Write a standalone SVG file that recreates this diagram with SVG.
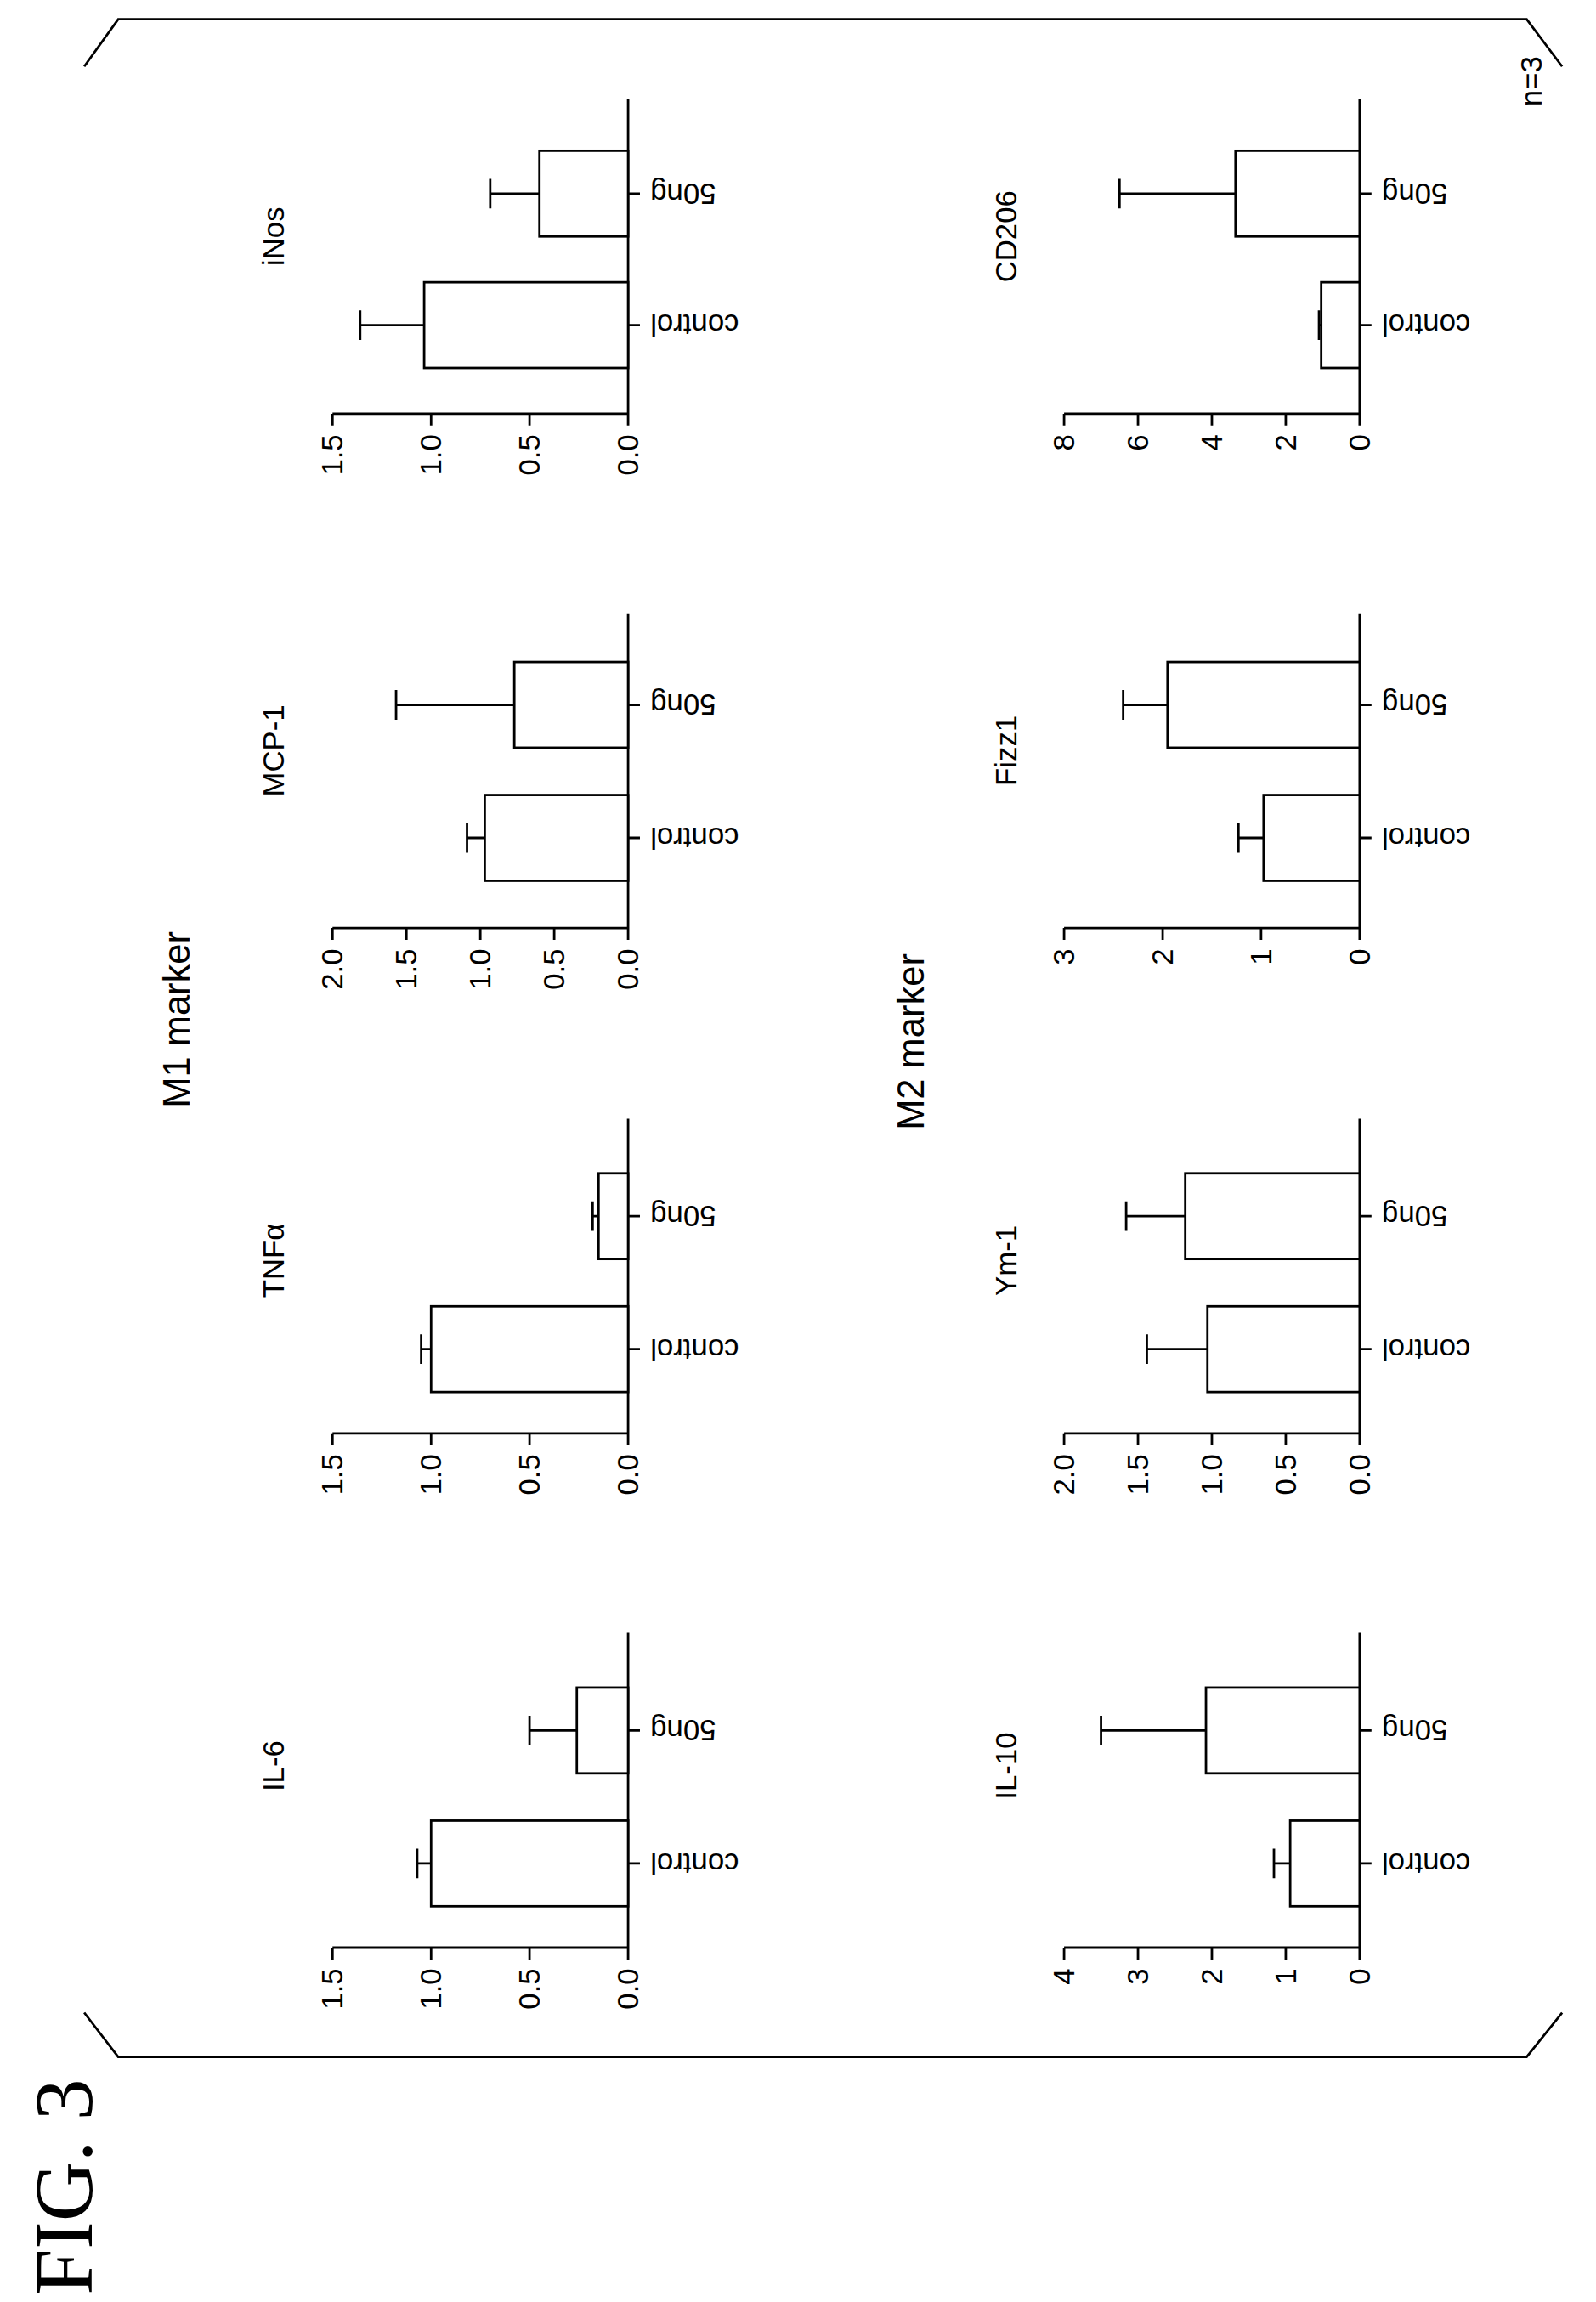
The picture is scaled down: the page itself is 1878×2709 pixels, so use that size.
<svg xmlns="http://www.w3.org/2000/svg" width="1878" height="2709" viewBox="0 0 1878 2709">
<style>
.ax{stroke:#000;stroke-width:1.6;fill:none}
.bar{stroke:#000;stroke-width:1.6;fill:#fff}
.t{font-family:"Liberation Sans",Arial,sans-serif;font-size:20px;fill:#000}
.tk{text-anchor:end}
.m{font-family:"Liberation Sans",Arial,sans-serif;font-size:25px;fill:#000;text-anchor:middle}
</style>
<rect width="1878" height="2709" fill="#fff"/>
<g transform="scale(1.739)">
<g id="frame">
<polyline class="ax" points="57,1362 80,1392 1033,1392 1057,1362"/>
<polyline class="ax" points="57,45 80,13 1033,13 1057,45"/>
<text class="t" x="1043" y="55" transform="rotate(-90 1043 55)" text-anchor="middle">n=3</text>
<text class="m" x="128" y="690" transform="rotate(-90 128 690)">M1  marker</text>
<text class="m" x="625" y="705" transform="rotate(-90 625 705)">M2  marker</text>
<text x="62" y="1480" transform="rotate(-90 62 1480)" text-anchor="middle" font-family="Liberation Serif,serif" font-size="56">FIG. 3</text>
</g>

<!-- IL-6 -->
<g id="il6">
<path class="ax" d="M225,1318H425V1105M225,1318v8M291.7,1318v8M358.3,1318v8M425,1318v8M425,1261h8M425,1171h8"/>
<text class="t tk" x="232" y="1332" transform="rotate(-90 232 1332)">1.5</text>
<text class="t tk" x="298.7" y="1332" transform="rotate(-90 298.7 1332)">1.0</text>
<text class="t tk" x="365.3" y="1332" transform="rotate(-90 365.3 1332)">0.5</text>
<text class="t tk" x="432" y="1332" transform="rotate(-90 432 1332)">0.0</text>
<rect class="bar" x="291.7" y="1232" width="133.3" height="58"/>
<rect class="bar" x="390.3" y="1142" width="34.7" height="58"/>
<path class="ax" d="M291.7,1261H282.3M282.3,1251v20M390.3,1171H358.3M358.3,1161v20"/>
<text class="t" x="440" y="1254" transform="rotate(180 440 1254)" text-anchor="end">control</text>
<text class="t" x="440" y="1164" transform="rotate(180 440 1164)" text-anchor="end">50ng</text>
<text class="t" x="192" y="1195" transform="rotate(-90 192 1195)" text-anchor="middle">IL-6</text>
</g>

<!-- TNFa -->
<g id="tnfa">
<path class="ax" d="M225,970H425V757M225,970v8M291.7,970v8M358.3,970v8M425,970v8M425,913h8M425,823h8"/>
<text class="t tk" x="232" y="984" transform="rotate(-90 232 984)">1.5</text>
<text class="t tk" x="298.7" y="984" transform="rotate(-90 298.7 984)">1.0</text>
<text class="t tk" x="365.3" y="984" transform="rotate(-90 365.3 984)">0.5</text>
<text class="t tk" x="432" y="984" transform="rotate(-90 432 984)">0.0</text>
<rect class="bar" x="291.7" y="884" width="133.3" height="58"/>
<rect class="bar" x="405" y="794" width="20" height="58"/>
<path class="ax" d="M291.7,913H285M285,903v20M405,823H401M401,813v20"/>
<text class="t" x="440" y="906" transform="rotate(180 440 906)" text-anchor="end">control</text>
<text class="t" x="440" y="816" transform="rotate(180 440 816)" text-anchor="end">50ng</text>
<text class="t" x="192" y="853" transform="rotate(-90 192 853)" text-anchor="middle">TNFα</text>
</g>

<!-- MCP-1 -->
<g id="mcp1">
<path class="ax" d="M225,628H425V415M225,628v8M275,628v8M325,628v8M375,628v8M425,628v8M425,567h8M425,477h8"/>
<text class="t tk" x="232" y="642" transform="rotate(-90 232 642)">2.0</text>
<text class="t tk" x="282" y="642" transform="rotate(-90 282 642)">1.5</text>
<text class="t tk" x="332" y="642" transform="rotate(-90 332 642)">1.0</text>
<text class="t tk" x="382" y="642" transform="rotate(-90 382 642)">0.5</text>
<text class="t tk" x="432" y="642" transform="rotate(-90 432 642)">0.0</text>
<rect class="bar" x="328" y="538" width="97" height="58"/>
<rect class="bar" x="348" y="448" width="77" height="58"/>
<path class="ax" d="M328,567H316M316,557v20M348,477H268M268,467v20"/>
<text class="t" x="440" y="560" transform="rotate(180 440 560)" text-anchor="end">control</text>
<text class="t" x="440" y="470" transform="rotate(180 440 470)" text-anchor="end">50ng</text>
<text class="t" x="192" y="508" transform="rotate(-90 192 508)" text-anchor="middle">MCP-1</text>
</g>

<!-- iNos -->
<g id="inos">
<path class="ax" d="M225,280H425V67M225,280v8M291.7,280v8M358.3,280v8M425,280v8M425,220h8M425,131h8"/>
<text class="t tk" x="232" y="294" transform="rotate(-90 232 294)">1.5</text>
<text class="t tk" x="298.7" y="294" transform="rotate(-90 298.7 294)">1.0</text>
<text class="t tk" x="365.3" y="294" transform="rotate(-90 365.3 294)">0.5</text>
<text class="t tk" x="432" y="294" transform="rotate(-90 432 294)">0.0</text>
<rect class="bar" x="287" y="191" width="138" height="58"/>
<rect class="bar" x="365" y="102" width="60" height="58"/>
<path class="ax" d="M287,220H243.7M243.7,210v20M365,131H331.7M331.7,121v20"/>
<text class="t" x="440" y="213" transform="rotate(180 440 213)" text-anchor="end">control</text>
<text class="t" x="440" y="124" transform="rotate(180 440 124)" text-anchor="end">50ng</text>
<text class="t" x="192" y="160" transform="rotate(-90 192 160)" text-anchor="middle">iNos</text>
</g>

<!-- IL-10 -->
<g id="il10">
<path class="ax" d="M720,1318H920V1105M720,1318v8M770,1318v8M820,1318v8M870,1318v8M920,1318v8M920,1261h8M920,1171h8"/>
<text class="t tk" x="727" y="1332" transform="rotate(-90 727 1332)">4</text>
<text class="t tk" x="777" y="1332" transform="rotate(-90 777 1332)">3</text>
<text class="t tk" x="827" y="1332" transform="rotate(-90 827 1332)">2</text>
<text class="t tk" x="877" y="1332" transform="rotate(-90 877 1332)">1</text>
<text class="t tk" x="927" y="1332" transform="rotate(-90 927 1332)">0</text>
<rect class="bar" x="873" y="1232" width="47" height="58"/>
<rect class="bar" x="816" y="1142" width="104" height="58"/>
<path class="ax" d="M873,1261H862M862,1251v20M816,1171H745M745,1161v20"/>
<text class="t" x="935" y="1254" transform="rotate(180 935 1254)" text-anchor="end">control</text>
<text class="t" x="935" y="1164" transform="rotate(180 935 1164)" text-anchor="end">50ng</text>
<text class="t" x="688" y="1195" transform="rotate(-90 688 1195)" text-anchor="middle">IL-10</text>
</g>

<!-- Ym-1 -->
<g id="ym1">
<path class="ax" d="M720,970H920V757M720,970v8M770,970v8M820,970v8M870,970v8M920,970v8M920,913h8M920,823h8"/>
<text class="t tk" x="727" y="984" transform="rotate(-90 727 984)">2.0</text>
<text class="t tk" x="777" y="984" transform="rotate(-90 777 984)">1.5</text>
<text class="t tk" x="827" y="984" transform="rotate(-90 827 984)">1.0</text>
<text class="t tk" x="877" y="984" transform="rotate(-90 877 984)">0.5</text>
<text class="t tk" x="927" y="984" transform="rotate(-90 927 984)">0.0</text>
<rect class="bar" x="817" y="884" width="103" height="58"/>
<rect class="bar" x="802" y="794" width="118" height="58"/>
<path class="ax" d="M817,913H776M776,903v20M802,823H762M762,813v20"/>
<text class="t" x="935" y="906" transform="rotate(180 935 906)" text-anchor="end">control</text>
<text class="t" x="935" y="816" transform="rotate(180 935 816)" text-anchor="end">50ng</text>
<text class="t" x="688" y="853" transform="rotate(-90 688 853)" text-anchor="middle">Ym-1</text>
</g>

<!-- Fizz1 -->
<g id="fizz1">
<path class="ax" d="M720,628H920V415M720,628v8M786.7,628v8M853.3,628v8M920,628v8M920,567h8M920,477h8"/>
<text class="t tk" x="727" y="642" transform="rotate(-90 727 642)">3</text>
<text class="t tk" x="793.7" y="642" transform="rotate(-90 793.7 642)">2</text>
<text class="t tk" x="860.3" y="642" transform="rotate(-90 860.3 642)">1</text>
<text class="t tk" x="927" y="642" transform="rotate(-90 927 642)">0</text>
<rect class="bar" x="855" y="538" width="65" height="58"/>
<rect class="bar" x="790" y="448" width="130" height="58"/>
<path class="ax" d="M855,567H838M838,557v20M790,477H760M760,467v20"/>
<text class="t" x="935" y="560" transform="rotate(180 935 560)" text-anchor="end">control</text>
<text class="t" x="935" y="470" transform="rotate(180 935 470)" text-anchor="end">50ng</text>
<text class="t" x="688" y="508" transform="rotate(-90 688 508)" text-anchor="middle">Fizz1</text>
</g>

<!-- CD206 -->
<g id="cd206">
<path class="ax" d="M720,280H920V67M720,280v8M770,280v8M820,280v8M870,280v8M920,280v8M920,220h8M920,131h8"/>
<text class="t tk" x="727" y="294" transform="rotate(-90 727 294)">8</text>
<text class="t tk" x="777" y="294" transform="rotate(-90 777 294)">6</text>
<text class="t tk" x="827" y="294" transform="rotate(-90 827 294)">4</text>
<text class="t tk" x="877" y="294" transform="rotate(-90 877 294)">2</text>
<text class="t tk" x="927" y="294" transform="rotate(-90 927 294)">0</text>
<rect class="bar" x="894" y="191" width="26" height="58"/>
<rect class="bar" x="836" y="102" width="84" height="58"/>
<path class="ax" d="M894,220H892.5M892.5,210v20M836,131H757.5M757.5,121v20"/>
<text class="t" x="935" y="213" transform="rotate(180 935 213)" text-anchor="end">control</text>
<text class="t" x="935" y="124" transform="rotate(180 935 124)" text-anchor="end">50ng</text>
<text class="t" x="688" y="160" transform="rotate(-90 688 160)" text-anchor="middle">CD206</text>
</g>
</g>
</svg>
